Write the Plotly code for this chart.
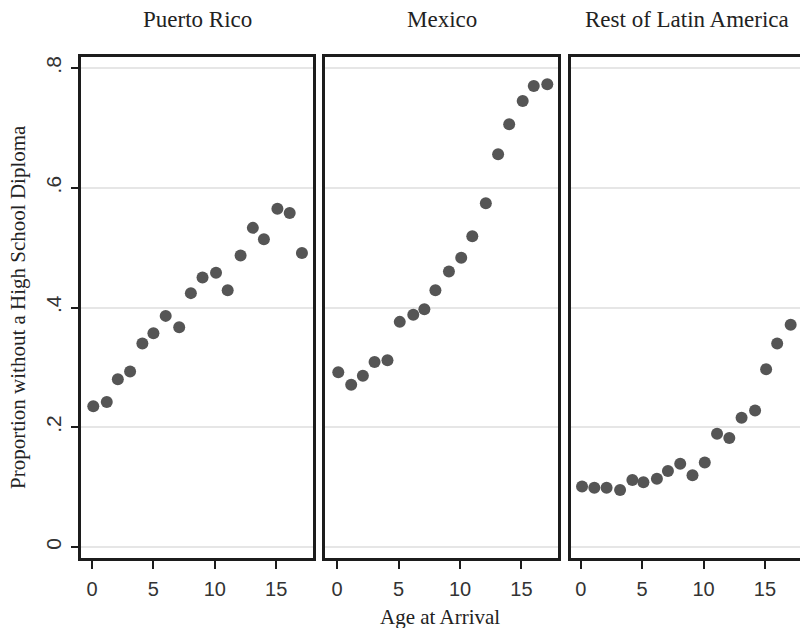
import plotly.graph_objects as go

# ---- data ----
panels = ["Puerto Rico", "Mexico", "Rest of Latin America"]

age_pr = [0.1, 1.2, 2.1, 3.1, 4.1, 5.0, 6.0, 7.1, 8.05, 9.0, 10.1, 11.05, 12.1, 13.1, 14.0, 15.1, 16.1, 17.1]
prop_pr = [0.235, 0.242, 0.280, 0.293, 0.340, 0.357, 0.386, 0.367, 0.424, 0.450, 0.458, 0.429,
           0.487, 0.533, 0.514, 0.565, 0.558, 0.491]

age_mx = [0.1, 1.15, 2.1, 3.05, 4.1, 5.1, 6.2, 7.1, 8.0, 9.1, 10.1, 11.0, 12.1, 13.1, 14.0, 15.1, 16.0, 17.1]
prop_mx = [0.292, 0.271, 0.286, 0.309, 0.312, 0.376, 0.388, 0.397, 0.429, 0.460, 0.483, 0.519,
           0.574, 0.656, 0.706, 0.745, 0.770, 0.773]

age_la = [0.1, 1.1, 2.1, 3.2, 4.2, 5.1, 6.2, 7.1, 8.1, 9.1, 10.1, 11.1, 12.1, 13.1, 14.2, 15.1, 16.0, 17.1]
prop_la = [0.101, 0.099, 0.099, 0.095, 0.112, 0.108, 0.114, 0.127, 0.139, 0.120, 0.141, 0.189,
           0.182, 0.216, 0.228, 0.297, 0.340, 0.371]

y_ticks = [0, 0.2, 0.4, 0.6, 0.8]
y_ticktext = ["0", ".2", ".4", ".6", ".8"]
x_ticks = [0, 5, 10, 15]
x_title = "Age at Arrival"
y_title = "Proportion without a High School Diploma"

# ---- layout geometry ----
W, H = 800, 628
x_domains = [(81 / W, 313 / W), (325 / W, 558 / W), (571 / W, 1.0)]
x_ranges = [(-0.9, 18.0), (-0.98, 17.97), (-0.8, 17.86)]
y_domain = (1 - 558 / H, 1 - 57 / H)
y_range = (-0.0184, 0.8184)

frame_col = "#1c1c1c"
grid_col = "#e6e6e6"
mark_col = "#555555"
serif = "Liberation Serif, Times New Roman, serif"
sans = "Liberation Sans, Arial, sans-serif"

fig = go.Figure()
series = [(age_pr, prop_pr), (age_mx, prop_mx), (age_la, prop_la)]
for i, (xs, ys) in enumerate(series):
    sfx = "" if i == 0 else str(i + 1)
    fig.add_trace(go.Scatter(
        x=xs, y=ys, mode="markers",
        marker=dict(size=12, color=mark_col, line=dict(width=0)),
        xaxis="x" + sfx, yaxis="y" + sfx, showlegend=False, hoverinfo="x+y"))

layout = dict(
    width=W, height=H,
    margin=dict(l=0, r=0, t=0, b=0),
    paper_bgcolor="white", plot_bgcolor="white",
    showlegend=False,
)
for i in range(3):
    sfx = "" if i == 0 else str(i + 1)
    layout["xaxis" + sfx] = dict(
        domain=list(x_domains[i]), range=list(x_ranges[i]),
        anchor="y" + sfx,
        tickmode="array", tickvals=x_ticks, ticktext=[str(v) for v in x_ticks],
        ticks="outside", ticklen=8, tickwidth=2, tickcolor=frame_col,
        tickfont=dict(family=sans, size=20, color="#333333"),
        ticklabelstandoff=3,
        showline=True, linewidth=2.5, linecolor=frame_col, mirror=True,
        showgrid=False, zeroline=False, fixedrange=True,
    )
    layout["yaxis" + sfx] = dict(
        domain=list(y_domain), range=list(y_range),
        anchor="x" + sfx,
        tickmode="array", tickvals=y_ticks, ticktext=y_ticktext,
        ticks="outside" if i == 0 else "", ticklen=7, tickwidth=2, tickcolor=frame_col,
        showticklabels=(i == 0), tickangle=-90,
        tickfont=dict(family=sans, size=21, color="#333333"),
        ticklabelstandoff=2,
        showline=True, linewidth=2.5, linecolor=frame_col, mirror=(i < 2),
        showgrid=True, gridcolor=grid_col, gridwidth=2,
        zeroline=False, fixedrange=True,
    )

annotations = []
title_centers = [197, 441.5, 686.5]
for name, cx in zip(panels, title_centers):
    annotations.append(dict(
        text=name, x=cx / W, y=1 - 20 / H, xref="paper", yref="paper",
        xanchor="center", yanchor="middle", showarrow=False,
        font=dict(family=serif, size=23, color="#222222")))
annotations.append(dict(
    text=x_title, x=440 / W, y=1 - 617 / H, xref="paper", yref="paper",
    xanchor="center", yanchor="middle", showarrow=False,
    font=dict(family=serif, size=21, color="#222222")))
annotations.append(dict(
    text=y_title, x=18 / W, y=1 - 307 / H, xref="paper", yref="paper",
    xanchor="center", yanchor="middle", showarrow=False, textangle=-90,
    font=dict(family=serif, size=21, color="#222222")))
layout["annotations"] = annotations

fig.update_layout(**layout)
fig.write_html("out.html")
